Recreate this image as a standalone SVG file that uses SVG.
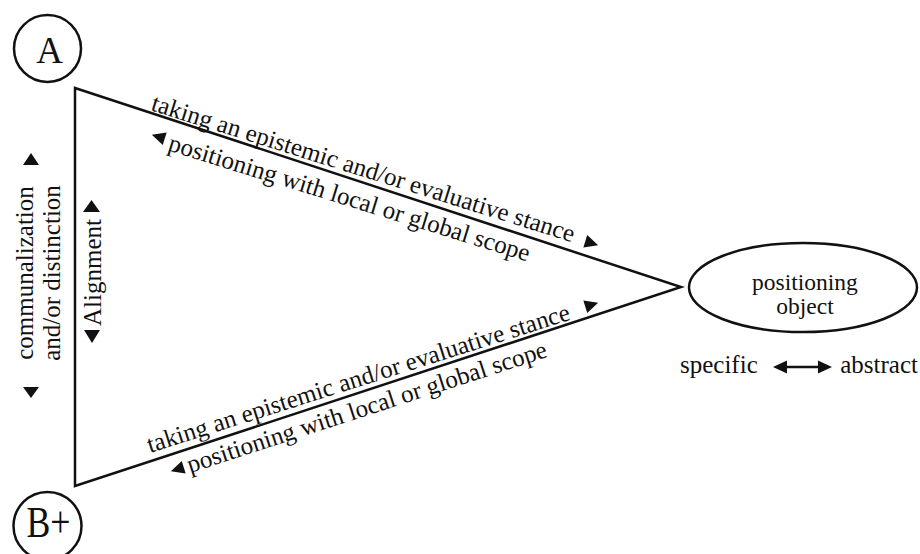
<svg xmlns="http://www.w3.org/2000/svg" width="920" height="554" viewBox="0 0 920 554">
<style>
text{font-family:"Liberation Serif","Times New Roman",serif;font-size:25px;fill:#111}
.ln{fill:none;stroke:#111;stroke-width:2.5}
.tri{fill:#111}
.big{font-size:37px}
.bp{font-size:44px}
.obj{font-size:23.5px}
.mid{text-anchor:middle}
</style>
<defs>
<path id="tri" d="M-6,-6.5 L7.5,0 L-6,6.5 Z"/>
</defs>
<rect width="920" height="554" fill="#fff"/>
<g id="connectors">
<polygon class="ln" points="75,88 681,287 75,486" stroke-linejoin="miter"/>
</g>
<g id="A">
<circle class="ln" stroke-width="2" cx="47.5" cy="48.5" r="33.5"/>
<text class="big mid" x="49.5" y="63">A</text>
</g>
<g id="Bplus">
<circle class="ln" stroke-width="2" cx="47.5" cy="526" r="34"/>
<text class="bp mid" x="48.5" y="537" textLength="44" lengthAdjust="spacingAndGlyphs">B+</text>
</g>
<g id="positioning-object">
<ellipse class="ln" stroke-width="2" cx="803" cy="287.5" rx="114" ry="44.5"/>
<text class="obj mid" x="805" y="290">positioning</text>
<text class="obj mid" x="805" y="314">object</text>
</g>
<g id="scale">
<text x="680" y="373">specific</text>
<line class="ln" x1="784" y1="367" x2="821" y2="367"/>
<polygon class="tri" points="773,367 787,360.5 787,373.5"/>
<polygon class="tri" points="832,367 818,360.5 818,373.5"/>
<text x="918" y="373" text-anchor="end">abstract</text>
</g>
<g id="top-labels">
<text transform="translate(150,110) rotate(17.4)">taking an epistemic and/or evaluative stance</text>
<use href="#tri" class="tri" transform="translate(591,243) rotate(17.4)"/>
<use href="#tri" class="tri" transform="translate(159,137) rotate(197.4)"/>
<text transform="translate(167,150) rotate(17.2)">positioning with local or global scope</text>
</g>
<g id="bottom-labels">
<text transform="translate(150,453) rotate(-17.6)">taking an epistemic and/or evaluative stance</text>
<use href="#tri" class="tri" transform="translate(591,305) rotate(-17.6)"/>
<use href="#tri" class="tri" transform="translate(178,469) rotate(162.4)"/>
<text transform="translate(190,473) rotate(-18)">positioning with local or global scope</text>
</g>
<g id="left-labels">
<polygon class="tri" points="23,165 39,165 31,153"/>
<polygon class="tri" points="23,387 39,387 31,398"/>
<text class="mid" transform="translate(33,273) rotate(-90)">communalization</text>
<text class="mid" transform="translate(60,273) rotate(-90)">and/or distinction</text>
</g>
<g id="alignment">
<polygon class="tri" points="83,212 100,212 91.5,200"/>
<polygon class="tri" points="84,330 100,330 92,343"/>
<text class="mid" transform="translate(101,272.5) rotate(-90)">Alignment</text>
</g>
</svg>
